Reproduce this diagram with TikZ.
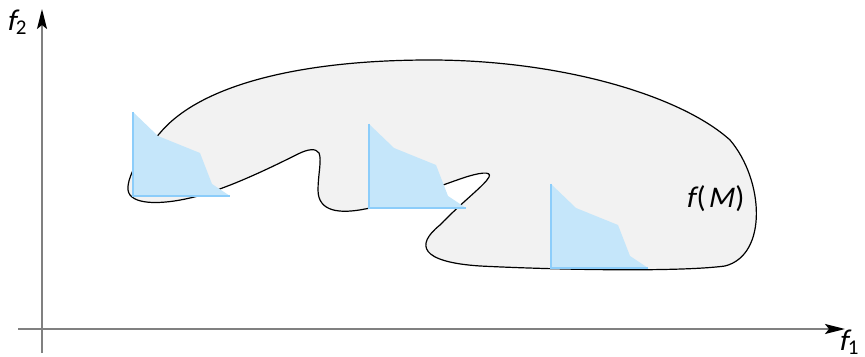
\documentclass[tikz,border=0pt]{standalone}
\usepackage{fontspec}
\setmainfont{Carlito}[AutoFakeSlant=0.2]
\usepackage{xcolor}
\usepackage{tikz}
\usetikzlibrary{arrows.meta,positioning,calc}

\definecolor{frontfill}{RGB}{197,230,250}
\definecolor{frontedge}{RGB}{140,205,250}

\begin{document}
\begin{tikzpicture}[
    x=0.5pt, y=-0.5pt,
    axis/.style={draw=gray, line width=1pt, -{Stealth[length=10pt, width=5pt, inset=2pt, black]}},
    region/.style={draw=black, line width=0.6pt, fill=gray!10},
    front/.style={fill=frontfill, draw=none},
    frontline/.style={draw=frontedge, line width=0.8pt},
    lbl/.style={font=\fontsize{15}{17}\selectfont, inner sep=0pt}
]
    \useasboundingbox (0,0) rectangle (865,357);

    % Axes
    \coordinate (xstart) at (18,329);
    \coordinate (xend) at (845,329);
    \coordinate (ystart) at (42,353);
    \coordinate (yend) at (42,9);
    \draw[axis] (xstart) -- (xend);
    \draw[axis] (ystart) -- (yend);
    \node[lbl] (f1) at (849,342) {\textit{f}\textsubscript{1}};
    \node[lbl] (f2) at (17,22) {\textit{f}\textsubscript{2}};

    % Image of the feasible set
    \draw[region] (160,133) .. controls (200,85) and (300,60) .. (430,60)
        .. controls (560,60) and (680,95) .. (730,140)
        .. controls (764,180) and (768,255) .. (725,266)
        .. controls (680,272) and (560,270) .. (480,266)
        .. controls (420,262) and (415,245) .. (440,225)
        .. controls (462,202) and (485,185) .. (489,177)
        .. controls (492,171) and (480,172) .. (460,179)
        .. controls (420,193) and (390,205) .. (365,209)
        .. controls (340,214) and (318,212) .. (318,190)
        .. controls (318,175) and (322,160) .. (319,153)
        .. controls (316,148) and (308,149) .. (298,154)
        .. controls (270,168) and (225,190) .. (190,198)
        .. controls (160,205) and (130,205) .. (128,190)
        .. controls (127,180) and (135,160) .. cycle;
    \node[lbl] (fM) at (715,199) {\textit{f}\kern1pt(\kern1pt\textit{M}\kern1pt)};

    % Local fronts
    \foreach \px/\py in {133/196, 369/208, 551/268} {
        \begin{scope}[shift={(\px,\py)}]
            \fill[front] (0,-84) -- (25,-60) -- (67,-43) -- (79,-12) -- (97,0) -- (0,0) -- cycle;
            \draw[frontline] (0,-84) -- (0,0) -- (97,0);
        \end{scope}
    }
\end{tikzpicture}
\end{document}
